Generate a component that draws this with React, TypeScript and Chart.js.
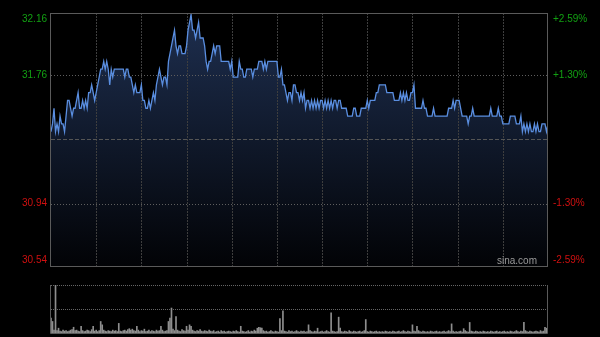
import React, { useEffect, useRef } from "react";
import { Chart, registerables } from "chart.js";

Chart.register(...registerables);

// Minute prices (HK session 9:30-12:00, 13:00-16:00)
const prices: number[] = [
  31.40,31.45,31.55,31.40,31.45,31.40,31.50,31.45,31.45,31.40,
  31.50,31.60,31.60,31.55,31.50,31.55,31.55,31.60,31.65,31.55,
  31.55,31.60,31.55,31.60,31.55,31.65,31.65,31.70,31.65,31.60,
  31.65,31.70,31.75,31.80,31.80,31.85,31.80,31.85,31.80,31.70,
  31.80,31.75,31.80,31.80,31.80,31.80,31.80,31.80,31.80,31.75,
  31.80,31.80,31.75,31.75,31.70,31.65,31.70,31.65,31.65,31.65,
  31.70,31.60,31.60,31.55,31.55,31.60,31.55,31.60,31.65,31.60,
  31.70,31.75,31.80,31.75,31.70,31.75,31.75,31.70,31.85,31.90,
  31.95,32.00,32.05,31.95,31.90,31.95,31.95,31.90,31.90,31.90,
  31.95,32.05,32.10,32.15,32.05,32.05,32.00,32.05,32.10,32.00,
  32.00,32.00,31.95,31.85,31.80,31.85,31.85,31.90,31.95,31.90,
  31.95,31.95,31.95,31.85,31.85,31.85,31.85,31.85,31.85,31.80,
  31.85,31.75,31.75,31.75,31.75,31.85,31.80,31.80,31.75,31.75,
  31.80,31.80,31.80,31.80,31.75,31.80,31.80,31.80,31.85,31.85,
  31.85,31.80,31.85,31.80,31.85,31.85,31.85,31.85,31.85,31.85,
  31.85,31.75,31.75,31.80,31.70,31.70,31.65,31.60,31.65,31.65,
  31.60,31.70,31.70,31.65,31.65,31.60,31.65,31.60,31.65,31.55,
  31.60,31.60,31.55,31.60,31.55,31.60,31.55,31.60,31.55,31.60,
  31.60,31.55,31.60,31.55,31.60,31.55,31.60,31.55,31.60,31.60,
  31.55,31.60,31.60,31.55,31.55,31.55,31.55,31.50,31.50,31.50,
  31.50,31.55,31.55,31.50,31.50,31.50,31.55,31.55,31.55,31.55,
  31.60,31.55,31.60,31.60,31.60,31.60,31.65,31.65,31.70,31.70,
  31.70,31.70,31.70,31.65,31.65,31.65,31.65,31.65,31.60,31.60,
  31.60,31.60,31.65,31.60,31.65,31.60,31.65,31.60,31.60,31.65,
  31.65,31.70,31.55,31.55,31.55,31.55,31.55,31.60,31.55,31.55,
  31.50,31.50,31.50,31.50,31.55,31.50,31.50,31.50,31.50,31.50,
  31.50,31.50,31.50,31.50,31.55,31.55,31.55,31.60,31.55,31.60,
  31.60,31.60,31.55,31.50,31.50,31.50,31.50,31.45,31.50,31.50,
  31.55,31.50,31.50,31.50,31.50,31.50,31.50,31.50,31.50,31.50,
  31.50,31.50,31.55,31.50,31.50,31.50,31.50,31.55,31.50,31.50,
  31.45,31.45,31.45,31.45,31.45,31.50,31.50,31.50,31.50,31.45,
  31.45,31.45,31.50,31.40,31.45,31.40,31.45,31.40,31.45,31.40,
  31.40,31.45,31.40,31.45,31.40,31.40,31.45,31.45,31.45,31.40,
  31.45,
];

// Minute volumes (relative units)
const volumes: number[] = [
  31,24,6,100,5,10,4,3,6,4,
  5,3,4,6,7,12,5,6,4,3,
  14,5,3,4,6,5,3,7,14,4,
  6,3,5,24,17,6,4,3,5,4,
  3,6,4,5,3,20,4,3,5,6,
  4,7,9,6,8,5,4,14,6,3,
  5,4,8,3,4,6,3,5,4,3,
  6,4,5,14,6,3,4,5,24,31,
  52,8,5,34,6,4,3,7,5,4,
  14,6,17,14,6,4,3,5,4,7,
  4,3,5,4,3,6,4,3,5,2,
  3,4,2,5,3,4,2,3,4,3,
  2,4,3,5,3,2,14,4,3,2,
  3,5,2,4,3,6,4,10,12,11,
  10,5,3,4,2,3,5,3,2,4,
  3,2,30,5,46,4,3,2,5,3,
  4,2,3,5,3,2,4,3,4,2,
  3,17,5,3,2,4,3,10,2,3,
  4,2,3,5,3,2,42,4,3,2,
  3,33,10,3,2,4,3,2,5,3,
  2,4,3,2,3,4,2,3,5,28,
  3,2,4,3,2,3,4,2,3,2,
  3,2,4,3,2,3,2,4,3,2,
  3,4,2,3,5,3,2,4,3,2,
  17,4,3,14,5,3,2,4,3,2,
  3,2,4,3,2,3,4,2,3,2,
  3,4,2,3,5,3,19,4,2,3,
  2,3,4,2,9,5,3,2,22,4,
  3,2,4,3,2,3,2,4,3,2,
  3,2,4,3,2,3,4,2,3,2,
  3,4,2,3,2,4,3,2,3,5,
  3,2,4,3,22,5,3,2,4,3,
  2,3,4,3,2,5,3,4,12,10,
  37,
];

const priceTicks: number[] = [32.16, 31.76, 30.94, 30.54];
const pctTicks: string[] = ["+2.59%", "+1.30%", "-1.30%", "-2.59%"];
const prevClose = 31.35;
const priceMin = 30.54;
const priceMax = 32.16;
const totalMinutes = 330;
const timeGrid: number[] = [30, 60, 90, 120, 150, 180, 210, 240, 270, 300];
const volumeMax = 100;

const FONT = "10px 'Liberation Sans', Arial, sans-serif";

export default function App() {
  const mainRef = useRef<HTMLCanvasElement | null>(null);
  const volRef = useRef<HTMLCanvasElement | null>(null);

  useEffect(() => {
    document.body.style.margin = "0";
    document.body.style.background = "#000";
    if (!mainRef.current || !volRef.current) return;

    const mainDecor = {
      id: "mainDecor",
      beforeDatasetsDraw(chart: any) {
        const { ctx, chartArea: a, scales } = chart;
        const x = scales.x;
        const y = scales.y;
        ctx.save();
        ctx.lineWidth = 1;
        ctx.strokeStyle = "#3e3e3e";
        ctx.setLineDash([2, 1]);
        for (const m of timeGrid) {
          const px = Math.round(x.getPixelForValue(m)) + 0.5;
          ctx.beginPath();
          ctx.moveTo(px, a.top);
          ctx.lineTo(px, a.bottom);
          ctx.stroke();
        }
        ctx.strokeStyle = "#5e5e5e";
        ctx.setLineDash([1, 2]);
        for (const v of [31.76, 30.94]) {
          const py = Math.round(y.getPixelForValue(v)) + 0.5;
          ctx.beginPath();
          ctx.moveTo(a.left, py);
          ctx.lineTo(a.right, py);
          ctx.stroke();
        }
        ctx.strokeStyle = "#555";
        ctx.setLineDash([4, 2]);
        const pc = Math.round(y.getPixelForValue(prevClose)) + 0.5;
        ctx.beginPath();
        ctx.moveTo(a.left, pc);
        ctx.lineTo(a.right, pc);
        ctx.stroke();
        ctx.restore();
      },
      afterDraw(chart: any) {
        const { ctx, chartArea: a, scales } = chart;
        const y = scales.y;
        ctx.save();
        ctx.setLineDash([]);
        ctx.lineWidth = 1;
        ctx.strokeStyle = "#5a5a5a";
        ctx.strokeRect(a.left - 0.5, a.top + 0.5, a.right - a.left, a.bottom - a.top);
        ctx.font = FONT;
        ctx.textBaseline = "middle";
        priceTicks.forEach((v, i) => {
          let py = y.getPixelForValue(v);
          py = Math.min(Math.max(py, a.top + 6), a.bottom - 6);
          const col = v > prevClose ? "#12a012" : "#d01010";
          ctx.fillStyle = col;
          ctx.textAlign = "right";
          ctx.fillText(v.toFixed(2), a.left - 4, py);
          ctx.textAlign = "left";
          ctx.fillText(pctTicks[i], a.right + 5, py);
        });
        ctx.fillStyle = "#9a9a9a";
        ctx.textAlign = "right";
        ctx.font = "10px 'Liberation Sans', Arial, sans-serif";
        ctx.fillText("sina.com", a.right - 11, a.bottom - 5);
        ctx.restore();
      },
    };

    const main = new Chart(mainRef.current, {
      type: "line",
      data: {
        datasets: [
          {
            data: prices.map((p, i) => ({ x: i, y: p })),
            borderColor: "#5a8ee0",
            borderWidth: 1.3,
            pointRadius: 0,
            tension: 0,
            fill: "start",
            backgroundColor: (c: any) => {
              const a = c.chart.chartArea;
              if (!a) return "rgba(0,0,0,0)";
              const g = c.chart.ctx.createLinearGradient(0, a.top, 0, a.bottom);
              g.addColorStop(0, "rgb(30,47,80)");
              g.addColorStop(1, "rgb(2,3,6)");
              return g;
            },
          },
        ],
      },
      options: {
        responsive: false,
        animation: false,
        events: [],
        layout: { padding: { left: 51, right: 52, top: 13, bottom: 14 } },
        plugins: {
          legend: { display: false },
          tooltip: { enabled: false },
          filler: { drawTime: "beforeDatasetsDraw" } as any,
        },
        scales: {
          x: { type: "linear", min: 0, max: totalMinutes, display: false },
          y: { type: "linear", min: priceMin, max: priceMax, display: false },
        },
      },
      plugins: [mainDecor],
    } as any);

    const volDecor = {
      id: "volDecor",
      beforeDatasetsDraw(chart: any) {
        const { ctx, chartArea: a, scales } = chart;
        const y = scales.y;
        ctx.save();
        ctx.lineWidth = 1;
        ctx.strokeStyle = "#666";
        ctx.setLineDash([1, 1]);
        for (const v of [volumeMax, volumeMax / 2]) {
          const py = Math.round(y.getPixelForValue(v)) + 0.5;
          ctx.beginPath();
          ctx.moveTo(a.left, py);
          ctx.lineTo(a.right, py);
          ctx.stroke();
        }
        ctx.restore();
      },
      afterDraw(chart: any) {
        const { ctx, chartArea: a } = chart;
        ctx.save();
        ctx.lineWidth = 1;
        ctx.strokeStyle = "#5a5a5a";
        ctx.beginPath();
        ctx.moveTo(a.left - 0.5, a.top);
        ctx.lineTo(a.left - 0.5, a.bottom + 0.5);
        ctx.lineTo(a.right - 0.5, a.bottom + 0.5);
        ctx.lineTo(a.right - 0.5, a.top);
        ctx.stroke();
        ctx.restore();
      },
    };

    const vol = new Chart(volRef.current, {
      type: "bar",
      data: {
        datasets: [
          {
            data: volumes.map((v, i) => ({ x: i, y: v })),
            backgroundColor: "#8e8e8e",
            barThickness: 1,
            borderWidth: 0,
          },
        ],
      },
      options: {
        responsive: false,
        animation: false,
        events: [],
        layout: { padding: { left: 51, right: 52, top: 5, bottom: 4 } },
        plugins: { legend: { display: false }, tooltip: { enabled: false } },
        scales: {
          x: { type: "linear", min: 0, max: totalMinutes, display: false, offset: false },
          y: { type: "linear", min: 0, max: volumeMax, display: false },
        },
      },
      plugins: [volDecor],
    } as any);

    return () => {
      main.destroy();
      vol.destroy();
    };
  }, []);

  return (
    <div style={{ position: "relative", width: 600, height: 337, background: "#000", overflow: "hidden" }}>
      <canvas ref={mainRef} width={600} height={280} style={{ position: "absolute", left: 0, top: 0 }} />
      <canvas ref={volRef} width={600} height={57} style={{ position: "absolute", left: 0, top: 280 }} />
    </div>
  );
}
